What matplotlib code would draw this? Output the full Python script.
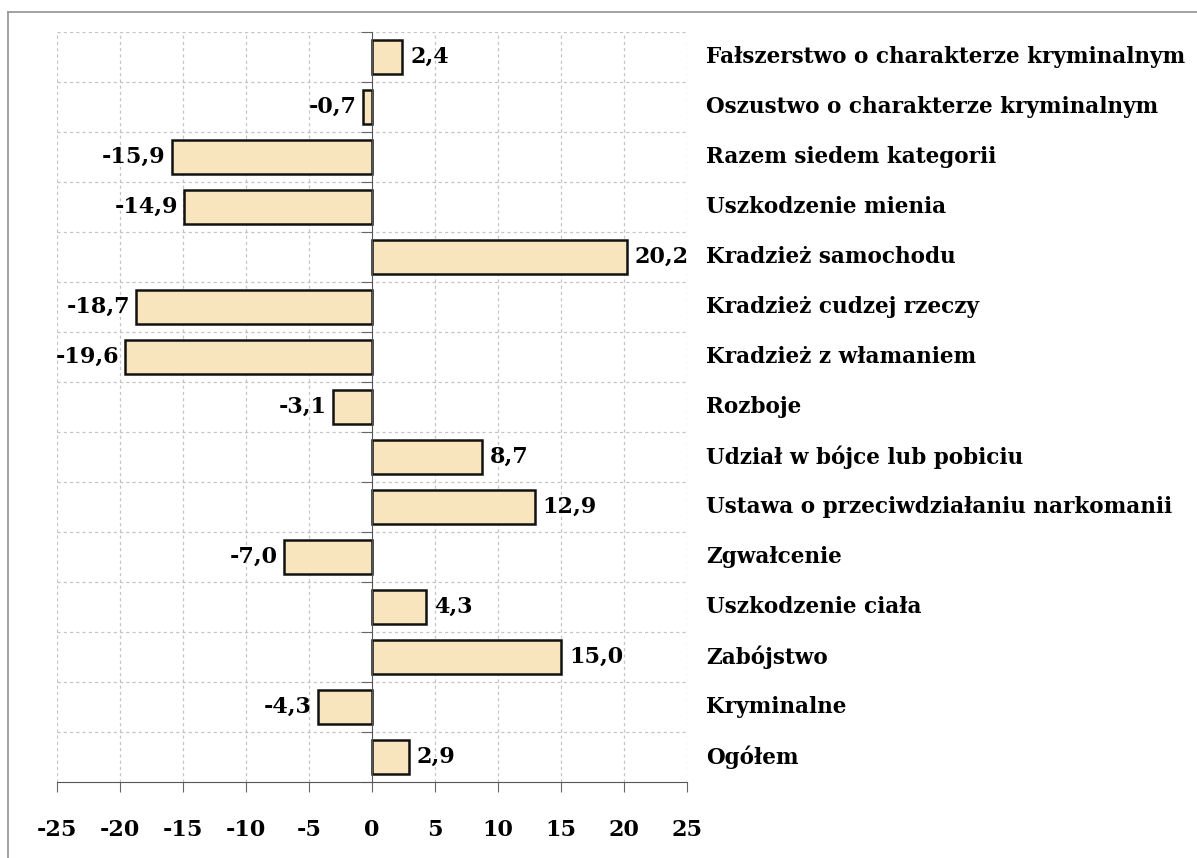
import numpy as np
import matplotlib.pyplot as plt
from matplotlib.lines import Line2D
from matplotlib.ticker import FixedLocator

categories = [
    "Fałszerstwo o charakterze kryminalnym",
    "Oszustwo o charakterze kryminalnym",
    "Razem siedem kategorii",
    "Uszkodzenie mienia",
    "Kradzież samochodu",
    "Kradzież cudzej rzeczy",
    "Kradzież z włamaniem",
    "Rozboje",
    "Udział w bójce lub pobiciu",
    "Ustawa o przeciwdziałaniu narkomanii",
    "Zgwałcenie",
    "Uszkodzenie ciała",
    "Zabójstwo",
    "Kryminalne",
    "Ogółem",
]
values = [2.4, -0.7, -15.9, -14.9, 20.2, -18.7, -19.6, -3.1, 8.7, 12.9, -7.0, 4.3, 15.0, -4.3, 2.9]
xticks = [-25, -20, -15, -10, -5, 0, 5, 10, 15, 20, 25]

font = "DejaVu Serif"
W, H = 1197, 858

fig = plt.figure(figsize=(W / 100, H / 100), dpi=100)
ax = fig.add_axes([57 / W, 1 - 782 / H, 630 / W, 750 / H])

y = np.arange(len(categories))
ax.barh(y, values, height=0.68, color="#F8E4BD", edgecolor="#111111", linewidth=1.8, zorder=3)

ax.set_xlim(-25, 25)
ax.set_ylim(len(categories) - 0.5, -0.5)

# dashed grid
for xv in xticks:
    if xv != 0:
        ax.axvline(xv, color="#c4c4c4", lw=0.9, ls=(0, (2.5, 2.5)), zorder=1)
for b in np.arange(-0.5, len(categories) - 1, 1.0):
    ax.axhline(b, color="#c4c4c4", lw=0.9, ls=(0, (2.5, 2.5)), zorder=1)

for s in ["top", "right"]:
    ax.spines[s].set_visible(False)
ax.spines["left"].set_position(("data", 0))
ax.spines["left"].set_color("#555555")
ax.spines["bottom"].set_color("#555555")
ax.spines["left"].set_zorder(4)

ax.yaxis.set_major_locator(FixedLocator(np.arange(-0.5, len(categories), 1.0)))
ax.tick_params(axis="y", direction="out", length=8, color="#666666", labelleft=False)
ax.set_xticks(xticks)
ax.set_xticklabels([str(t) for t in xticks], fontfamily=font, fontweight="bold", fontsize=16)
ax.tick_params(axis="x", direction="out", length=7, color="#666666", pad=20)

# value labels
for yi, v in zip(y, values):
    lab = f"{v:.1f}".replace(".", ",")
    if v >= 0:
        ax.annotate(lab, (v, yi), xytext=(8, 0), textcoords="offset pixels",
                    ha="left", va="center", fontfamily=font, fontweight="bold", fontsize=16)
    else:
        ax.annotate(lab, (v, yi), xytext=(-6, 0), textcoords="offset pixels",
                    ha="right", va="center", fontfamily=font, fontweight="bold", fontsize=16)

# category names at right
trans = ax.get_yaxis_transform()
for yi, c in zip(y, categories):
    ax.text(1 + 19 / 630, yi, c, transform=trans, ha="left", va="center",
            fontfamily=font, fontweight="bold", fontsize=15.5, clip_on=False)

# scanned frame edges
fig.add_artist(Line2D([8 / W, 1.0], [1 - 12 / H, 1 - 12 / H], color="#9a9a9a", lw=1.3))
fig.add_artist(Line2D([8 / W, 8 / W], [0.0, 1 - 12 / H], color="#9a9a9a", lw=1.3))

fig.savefig("out.png", dpi=100, facecolor="white")
